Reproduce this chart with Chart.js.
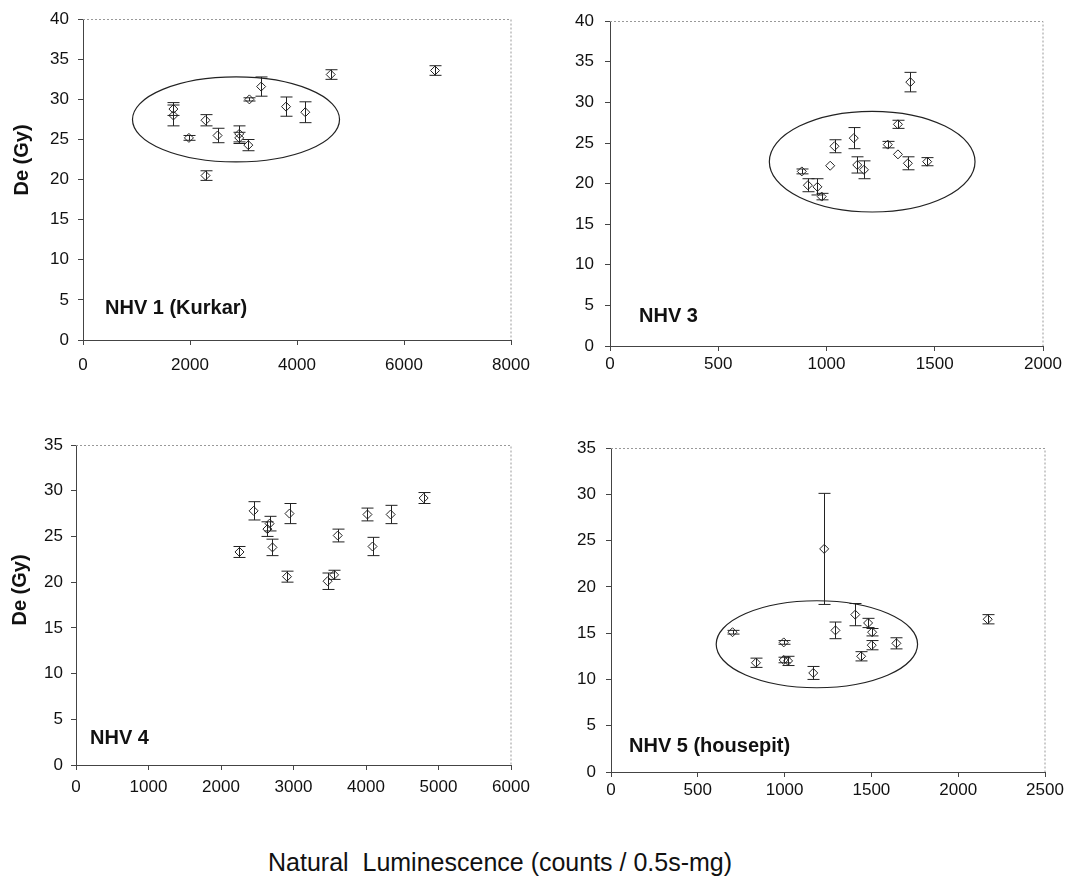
<!DOCTYPE html>
<html>
<head>
<meta charset="utf-8">
<script src="https://cdn.jsdelivr.net/npm/chart.js@4.4.1/dist/chart.umd.min.js"></script>
<style>
  body { margin: 0; background: #fff; width: 1070px; height: 882px; position: relative; overflow: hidden; }
  .panel { position: absolute; }
  #xtitle { position: absolute; left: 268px; top: 850px; font: 25px Arial, "Liberation Sans", sans-serif; line-height: 25px; color: #111; white-space: pre; }
</style>
</head>
<body>
<div class="panel" style="left:0;top:0"><canvas id="c1" width="540" height="380"></canvas></div>
<div class="panel" style="left:540px;top:0"><canvas id="c2" width="530" height="380"></canvas></div>
<div class="panel" style="left:0;top:420px"><canvas id="c3" width="540" height="380"></canvas></div>
<div class="panel" style="left:540px;top:420px"><canvas id="c4" width="530" height="380"></canvas></div>
<div id="xtitle">Natural  Luminescence (counts / 0.5s-mg)</div>
<script>
// NHV 1 (Kurkar)
const nhv1Lum = [1690, 1690, 1980, 2290, 2290, 2515, 2920, 2920, 3090, 3110, 3330, 3795, 4155, 4630, 6580];
const nhv1De  = [28.8, 28.0, 25.2, 27.4, 20.5, 25.5, 25.7, 25.2, 24.3, 30.0, 31.6, 29.1, 28.4, 33.1, 33.6];
const nhv1Err = [0.8, 1.3, 0.3, 0.7, 0.6, 0.9, 1.0, 0.7, 0.7, 0.2, 1.2, 1.2, 1.3, 0.6, 0.6];
const nhv1Ellipse = [2860, 27.5, 1935, 5.3]; // centre x, centre y, half width, half height

// NHV 3
const nhv3Lum = [886, 914, 958, 978, 1017, 1037, 1126, 1142, 1173, 1283, 1330, 1330, 1376, 1387, 1465];
const nhv3De  = [21.5, 19.8, 19.6, 18.4, 22.2, 24.6, 25.6, 22.3, 21.7, 24.8, 27.3, 23.6, 22.5, 32.5, 22.7];
const nhv3Err = [0.3, 0.8, 1.0, 0.4, 0, 0.8, 1.3, 1.0, 1.1, 0.4, 0.5, 0, 0.8, 1.2, 0.5];
const nhv3Ellipse = [1211, 22.7, 475, 6.2];

// NHV 4
const nhv4Lum = [2255, 2450, 2670, 2640, 2710, 2910, 2945, 3470, 3560, 3610, 4020, 4090, 4340, 4795];
const nhv4De  = [23.3, 27.8, 26.4, 25.8, 23.8, 20.6, 27.5, 20.1, 20.8, 25.1, 27.4, 23.9, 27.4, 29.2];
const nhv4Err = [0.6, 1.0, 0.8, 0.8, 0.9, 0.6, 1.1, 0.9, 0.5, 0.7, 0.7, 1.0, 1.0, 0.6];

// NHV 5 (housepit)
const nhv5Lum = [700, 835, 995, 995, 1020, 1165, 1228, 1293, 1407, 1441, 1481, 1502, 1504, 1644, 2170];
const nhv5De  = [15.1, 11.8, 14.0, 12.1, 12.0, 10.7, 24.1, 15.3, 17.0, 12.5, 16.1, 13.7, 15.1, 13.9, 16.5];
const nhv5Err = [0.2, 0.5, 0.2, 0.3, 0.5, 0.7, 6.0, 0.9, 1.2, 0.5, 0.5, 0.5, 0.4, 0.6, 0.5];
const nhv5Ellipse = [1186, 13.8, 580, 4.7];

const FONT = 'Arial, "Liberation Sans", sans-serif';
const INK = '#222';

// error bars, ellipse, dotted frame and panel label
const decorPlugin = {
    id: 'decor',
    afterDatasetsDraw(chart) {
        const o = chart.options.plugins.decor;
        const ctx = chart.ctx;
        const xs = chart.scales.x, ys = chart.scales.y;
        const area = chart.chartArea;
        const ds = chart.data.datasets[0];

        ctx.save();
        ctx.strokeStyle = INK;
        ctx.lineWidth = 1;
        ds.data.forEach((p, i) => {
            const e = o.err[i];
            if (e <= 0) return;
            const px = Math.round(xs.getPixelForValue(p.x)) + 0.5;
            const top = ys.getPixelForValue(p.y + e);
            const bot = ys.getPixelForValue(p.y - e);
            ctx.beginPath();
            ctx.moveTo(px, top); ctx.lineTo(px, bot);
            ctx.moveTo(px - 6, top); ctx.lineTo(px + 6, top);
            ctx.moveTo(px - 6, bot); ctx.lineTo(px + 6, bot);
            ctx.stroke();
        });

        if (o.ellipse) {
            const [cx, cy, rx, ry] = o.ellipse;
            const pcx = xs.getPixelForValue(cx), pcy = ys.getPixelForValue(cy);
            const prx = Math.abs(xs.getPixelForValue(cx + rx) - pcx);
            const pry = Math.abs(ys.getPixelForValue(cy + ry) - pcy);
            ctx.lineWidth = 1.2;
            ctx.beginPath();
            ctx.ellipse(pcx, pcy, prx, pry, 0, 0, Math.PI * 2);
            ctx.stroke();
        }

        // dotted top and right frame
        ctx.strokeStyle = '#999';
        ctx.lineWidth = 1;
        ctx.setLineDash([2, 2]);
        ctx.beginPath();
        ctx.moveTo(area.left, Math.round(area.top) + 0.5);
        ctx.lineTo(area.right, Math.round(area.top) + 0.5);
        ctx.lineTo(area.right, area.bottom);
        ctx.stroke();
        ctx.setLineDash([]);

        ctx.fillStyle = '#111';
        ctx.font = 'bold 20px ' + FONT;
        ctx.textBaseline = 'alphabetic';
        ctx.textAlign = 'left';
        ctx.fillText(o.label, area.left + o.labelDx, area.bottom - o.labelDy);

        if (o.yTitle) {
            ctx.save();
            ctx.translate(o.yTitle[0], o.yTitle[1]);
            ctx.rotate(-Math.PI / 2);
            ctx.font = 'bold 20px ' + FONT;
            ctx.textAlign = 'center';
            ctx.textBaseline = 'middle';
            ctx.fillText('De (Gy)', 0, 0);
            ctx.restore();
        }
        ctx.restore();
    }
};

function plain(v) { return String(v); }

function makePanel(id, lum, de, err, cfg) {
    const points = lum.map((x, i) => ({ x: x, y: de[i] }));
    return new Chart(document.getElementById(id), {
        type: 'scatter',
        data: {
            datasets: [{
                data: points,
                pointStyle: 'rectRot',
                pointRadius: 4.5,
                pointHoverRadius: 4.5,
                borderColor: INK,
                backgroundColor: 'rgba(0,0,0,0)',
                borderWidth: 1
            }]
        },
        options: {
            responsive: false,
            animation: false,
            layout: { padding: { top: cfg.padTop, right: cfg.padRight, left: 0, bottom: 0 } },
            plugins: {
                legend: { display: false },
                tooltip: { enabled: false },
                decor: {
                    err: err,
                    ellipse: cfg.ellipse,
                    label: cfg.label,
                    labelDx: cfg.labelDx,
                    labelDy: cfg.labelDy,
                    yTitle: cfg.yTitle
                }
            },
            scales: {
                x: {
                    type: 'linear',
                    min: 0,
                    max: cfg.xMax,
                    ticks: { stepSize: cfg.xStep, callback: plain, color: '#111', font: { family: FONT, size: 17 }, padding: cfg.xPad, maxRotation: 0, autoSkip: false },
                    grid: { drawOnChartArea: false, drawTicks: true, tickLength: 5, color: '#444' },
                    border: { color: '#444', width: 1 },
                    afterFit: s => { s.height = cfg.xH; }
                },
                y: {
                    min: 0,
                    max: cfg.yMax,
                    ticks: { stepSize: 5, callback: plain, color: '#111', font: { family: FONT, size: 17 }, padding: cfg.yPad },
                    grid: { drawOnChartArea: false, drawTicks: true, tickLength: 5, color: '#444' },
                    border: { color: '#444', width: 1 },
                    afterFit: s => { s.width = cfg.yW; }
                }
            }
        },
        plugins: [decorPlugin]
    });
}

makePanel('c1', nhv1Lum, nhv1De, nhv1Err, {
    xMax: 8000, xStep: 2000, yMax: 40, yW: 83, xH: 40, padTop: 13, padRight: 29, xPad: 10, yPad: 9,
    ellipse: nhv1Ellipse, label: 'NHV 1 (Kurkar)', labelDx: 22, labelDy: 26, yTitle: [22, 160]
});
makePanel('c2', nhv3Lum, nhv3De, nhv3Err, {
    xMax: 2000, xStep: 500, yMax: 40, yW: 70, xH: 34, padTop: 16, padRight: 27, xPad: 3, yPad: 11,
    ellipse: nhv3Ellipse, label: 'NHV 3', labelDx: 29, labelDy: 24, yTitle: null
});
makePanel('c3', nhv4Lum, nhv4De, nhv4Err, {
    xMax: 6000, xStep: 1000, yMax: 35, yW: 76, xH: 35, padTop: 25, padRight: 29, xPad: 7, yPad: 8,
    ellipse: null, label: 'NHV 4', labelDx: 14, labelDy: 21, yTitle: [20, 170]
});
makePanel('c4', nhv5Lum, nhv5De, nhv5Err, {
    xMax: 2500, xStep: 500, yMax: 35, yW: 71, xH: 28, padTop: 28, padRight: 25, xPad: 3, yPad: 10,
    ellipse: nhv5Ellipse, label: 'NHV 5 (housepit)', labelDx: 18, labelDy: 20, yTitle: null
});
</script>
</body>
</html>
